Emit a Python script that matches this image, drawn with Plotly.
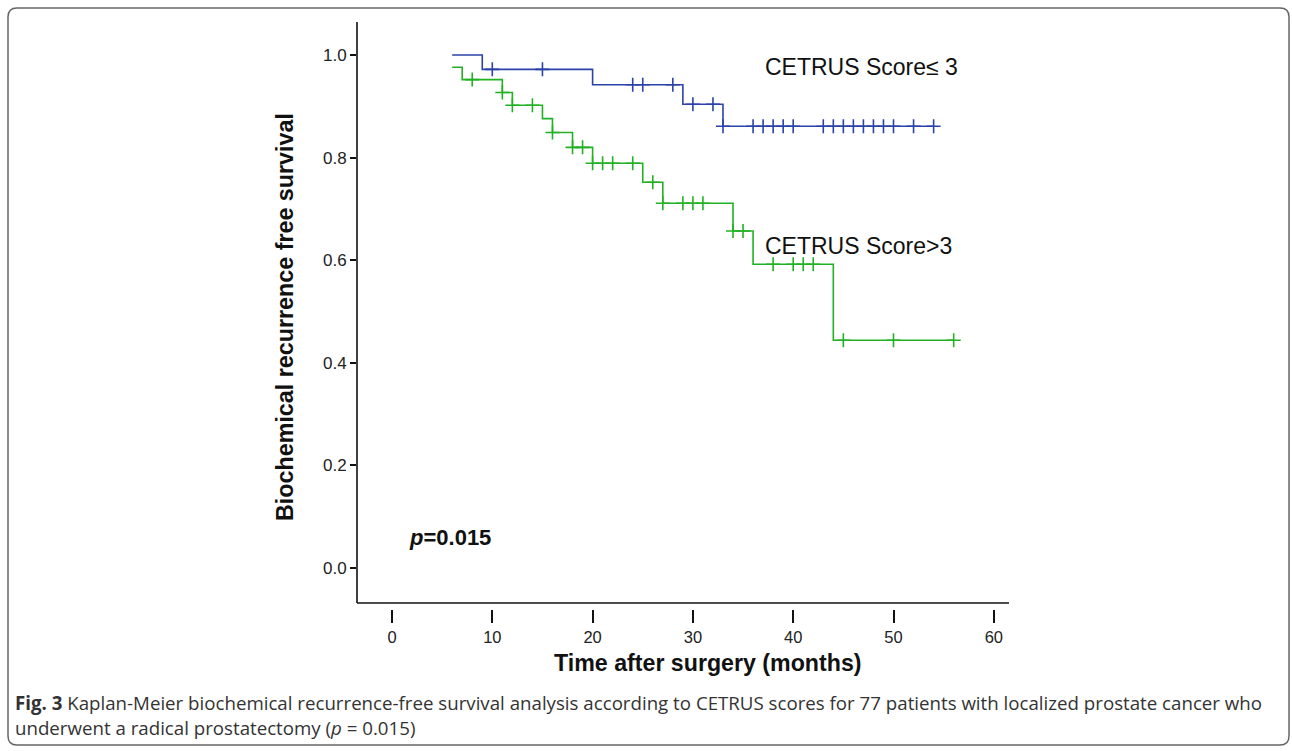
import plotly.graph_objects as go

# ---------------- data ----------------
# Group CETRUS Score <= 3 (blue)
low_event_times = [6, 9, 20, 29, 33]
low_survival = [1.0, 0.972, 0.942, 0.904, 0.861]
low_end_time = 54
low_censor_times = [10, 15, 24, 25, 28, 30, 32, 33, 36, 37, 38, 39, 40,
                    43, 44, 45, 46, 47, 48, 49, 50, 52, 54]

# Group CETRUS Score > 3 (green)
high_event_times = [6, 7, 11, 12, 15, 16, 18, 20, 25, 27, 34, 36, 44]
high_survival = [0.976, 0.952, 0.927, 0.902, 0.876, 0.849, 0.820, 0.789,
                 0.752, 0.711, 0.657, 0.592, 0.444]
high_end_time = 56
high_censor_times = [8, 11, 12, 14, 16, 18, 19, 20, 21, 22, 24, 26, 27, 29,
                     30, 31, 34, 35, 38, 40, 41, 42, 45, 50, 56]

x_ticks = [0, 10, 20, 30, 40, 50, 60]
y_ticks = [0.0, 0.2, 0.4, 0.6, 0.8, 1.0]

BLUE = "#2B43A8"
GREEN = "#22B124"

# ---------------- layout geometry (pixels) ----------------
W, H = 1292, 751
L, R, T, B = 357, 1009, 22, 609


def px(xp):
    return (xp - L) / (R - L)


def py(yp):
    return (B - yp) / (B - T)


def step_value(times, surv, t):
    val = surv[0]
    for ti, si in zip(times, surv):
        if ti <= t:
            val = si
    return val


fig = go.Figure()

for times, surv, end, ctimes, color in [
    (low_event_times, low_survival, low_end_time, low_censor_times, BLUE),
    (high_event_times, high_survival, high_end_time, high_censor_times, GREEN),
]:
    xs = list(times) + [end]
    ys = list(surv) + [surv[-1]]
    fig.add_trace(go.Scatter(x=xs, y=ys, mode="lines", line_shape="hv",
                             line=dict(color=color, width=1.6),
                             hoverinfo="skip", showlegend=False))
    cy = [step_value(times, surv, t) for t in ctimes]
    fig.add_trace(go.Scatter(x=ctimes, y=cy, mode="markers",
                             marker=dict(symbol="cross-thin", size=10,
                                         line=dict(color=color, width=1.6)),
                             hoverinfo="skip", showlegend=False))

# axis lines (drawn as shapes so x ticks can sit detached below)
shapes = [
    dict(type="line", xref="paper", yref="paper", x0=px(L), x1=px(R),
         y0=py(603), y1=py(603), line=dict(color="#111", width=1.6)),
    dict(type="line", xref="paper", yref="paper", x0=px(L), x1=px(L),
         y0=py(T), y1=py(603), line=dict(color="#111", width=1.6)),
]

# rounded frame
fx0, fy0, fx1, fy1, r = 8, 8, 1289, 745, 9
path = (f"M {px(fx0 + r)},{py(fy0)} L {px(fx1 - r)},{py(fy0)} "
        f"Q {px(fx1)},{py(fy0)} {px(fx1)},{py(fy0 + r)} "
        f"L {px(fx1)},{py(fy1 - r)} Q {px(fx1)},{py(fy1)} {px(fx1 - r)},{py(fy1)} "
        f"L {px(fx0 + r)},{py(fy1)} Q {px(fx0)},{py(fy1)} {px(fx0)},{py(fy1 - r)} "
        f"L {px(fx0)},{py(fy0 + r)} Q {px(fx0)},{py(fy0)} {px(fx0 + r)},{py(fy0)} Z")
shapes.append(dict(type="path", xref="paper", yref="paper", path=path,
                   line=dict(color="#666", width=1.5)))

AX_FONT = "Liberation Sans, Arial, sans-serif"
CAP_FONT = "Open Sans, sans-serif"

annotations = [
    dict(x=37.0, y=0.977, xref="x", yref="y", text="CETRUS Score≤ 3",
         showarrow=False, xanchor="left", yanchor="middle",
         font=dict(family=AX_FONT, size=23, color="#111")),
    dict(x=37.0, y=0.628, xref="x", yref="y", text="CETRUS Score>3",
         showarrow=False, xanchor="left", yanchor="middle",
         font=dict(family=AX_FONT, size=23, color="#111")),
    dict(x=1.5, y=0.060, xref="x", yref="y", text="<b><i>p</i>=0.015</b>",
         showarrow=False, xanchor="left", yanchor="middle",
         font=dict(family=AX_FONT, size=22, color="#111")),
    dict(x=px(285), y=py(317), xref="paper", yref="paper",
         text="<b>Biochemical recurrence free survival</b>", textangle=-90,
         showarrow=False, xanchor="center", yanchor="middle",
         font=dict(family=AX_FONT, size=23.3, color="#111")),
    dict(x=px(708), y=py(663), xref="paper", yref="paper",
         text="<b>Time after surgery (months)</b>",
         showarrow=False, xanchor="center", yanchor="middle",
         font=dict(family=AX_FONT, size=23.2, color="#111")),
    dict(x=px(13), y=py(703), xref="paper", yref="paper",
         text="<b>Fig. 3</b> Kaplan-Meier biochemical recurrence-free survival analysis "
              "according to CETRUS scores for 77 patients with localized prostate cancer who",
         showarrow=False, xanchor="left", yanchor="middle",
         font=dict(family=CAP_FONT, size=18.7, color="#333")),
    dict(x=px(13), y=py(727), xref="paper", yref="paper",
         text="underwent a radical prostatectomy (<i>p</i> = 0.015)",
         showarrow=False, xanchor="left", yanchor="middle",
         font=dict(family=CAP_FONT, size=18.7, color="#333")),
]

x_lo = (L - 392) / 10.03
x_hi = (R - 392) / 10.03
y_hi = (568 - T) / 513
y_lo = (568 - B) / 513

fig.update_layout(
    width=W, height=H,
    margin=dict(l=L, r=W - R, t=T, b=H - B),
    paper_bgcolor="white", plot_bgcolor="white",
    shapes=shapes, annotations=annotations,
    xaxis=dict(range=[x_lo, x_hi], tickvals=x_ticks,
               ticktext=[str(v) for v in x_ticks],
               ticks="outside", ticklen=13, tickwidth=1.6, tickcolor="#111",
               showline=False, showgrid=False, zeroline=False,
               tickfont=dict(family=AX_FONT, size=16.5, color="#222")),
    yaxis=dict(range=[y_lo, y_hi], tickvals=y_ticks,
               ticktext=[f"{v:.1f}" for v in y_ticks],
               ticks="outside", ticklen=6, tickwidth=1.6, tickcolor="#111",
               showline=False, showgrid=False, zeroline=False,
               tickfont=dict(family=AX_FONT, size=17, color="#222")),
)

fig.write_html("out.html")
